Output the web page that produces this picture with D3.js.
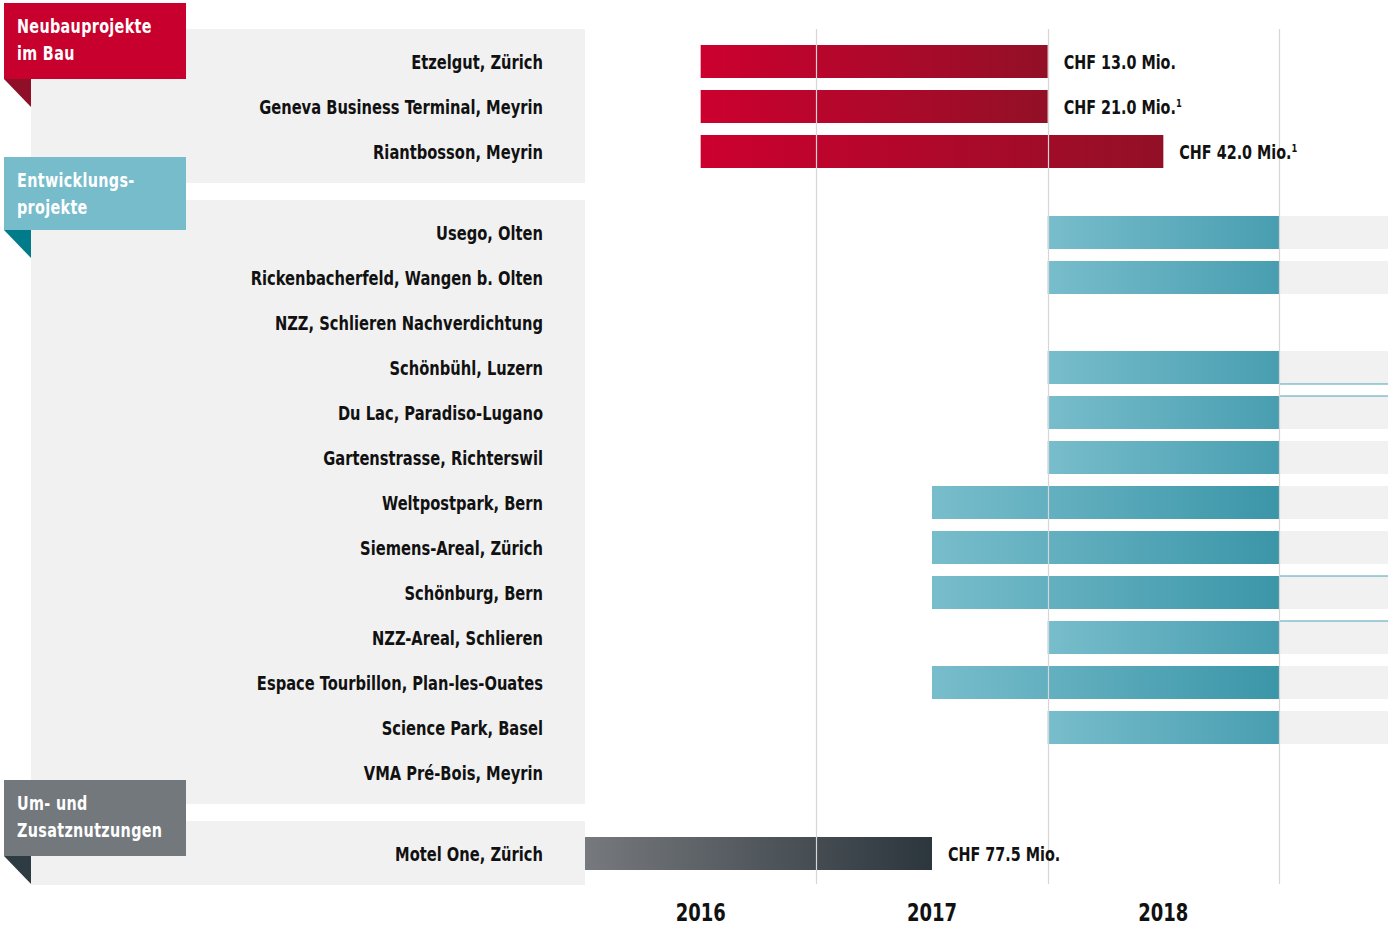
<!DOCTYPE html>
<html>
<head>
<meta charset="utf-8">
<script src="https://cdn.jsdelivr.net/npm/d3@7"></script>
<style>
  body { margin: 0; background: #fff; }
  svg text { font-family: "DejaVu Sans Condensed", "DejaVu Sans", sans-serif; font-weight: bold; }
</style>
</head>
<body>
<div id="chart"></div>
<script>
// groups
const groupNames = [["Neubauprojekte", "im Bau"], ["Entwicklungs-", "projekte"], ["Um- und", "Zusatznutzungen"]];
const groupColors = ["#c8002d", "#76bccb", "#73787c"];
const groupFolds = ["#8e0f27", "#007b8a", "#2f3b42"];

// projects
const projects = [
  "Etzelgut, Zürich", "Geneva Business Terminal, Meyrin", "Riantbosson, Meyrin",
  "Usego, Olten", "Rickenbacherfeld, Wangen b. Olten", "NZZ, Schlieren Nachverdichtung",
  "Schönbühl, Luzern", "Du Lac, Paradiso-Lugano", "Gartenstrasse, Richterswil",
  "Weltpostpark, Bern", "Siemens-Areal, Zürich", "Schönburg, Bern", "NZZ-Areal, Schlieren",
  "Espace Tourbillon, Plan-les-Ouates", "Science Park, Basel", "VMA Pré-Bois, Meyrin",
  "Motel One, Zürich"
];
const projectGroup = [0, 0, 0, 1, 1, 1, 1, 1, 1, 1, 1, 1, 1, 1, 1, 1, 2];
const startYear = [2016.5, 2016.5, 2016.5, 2018, 2018, null, 2018, 2018, 2018, 2017.5, 2017.5, 2017.5, 2018, 2017.5, 2018, null, 2016];
const endYear   = [2018, 2018, 2018.5, 2019, 2019, null, 2019, 2019, 2019, 2019, 2019, 2019, 2019, 2019, 2019, null, 2017.5];
const ongoing   = [false, false, false, true, true, false, true, true, true, true, true, true, true, true, true, false, false];
const valueLabels = ["CHF 13.0 Mio.", "CHF 21.0 Mio.", "CHF 42.0 Mio.", null, null, null, null, null, null, null, null, null, null, null, null, null, "CHF 77.5 Mio."];
const footnotes = ["", "1", "1", "", "", "", "", "", "", "", "", "", "", "", "", "", ""];
const edgeLines = [null, null, null, null, null, null, "bottom", "top", null, null, null, "top", "top", null, null, null, null];

const years = [2016, 2017, 2018];

const W = 1388, H = 928;
const SX = 0.86; // horizontal squeeze to mimic condensed face
const svg = d3.select("#chart").append("svg").attr("width", W).attr("height", H);
const defs = svg.append("defs");

const x = d3.scaleLinear().domain([2016, 2019]).range([585, 1279]);
const rowStep = d3.scaleLinear().domain([0, 1]).range([62, 107]);
const y = (i) => rowStep(i) + projectGroup[i] * 36;
const barH = 33;

// grey panels behind labels
const panelX0 = 31, panelX1 = 585;
d3.range(groupNames.length).forEach((g) => {
  const idx = projects.map((p, i) => i).filter((i) => projectGroup[i] === g);
  const top = y(idx[0]) - 33, bottom = y(idx[idx.length - 1]) + 31;
  svg.append("rect").attr("x", panelX0).attr("y", top).attr("width", panelX1 - panelX0).attr("height", bottom - top).attr("fill", "#f1f1f1");
});

// grey continuation to right edge
svg.selectAll("rect.ext").data(projects.map((p, i) => i).filter((i) => ongoing[i]))
  .enter().append("rect").attr("class", "ext")
  .attr("x", x(2019)).attr("width", W - x(2019))
  .attr("y", (i) => y(i) - 17).attr("height", barH)
  .attr("fill", "#f1f1f1");

svg.selectAll("line.edge").data(projects.map((p, i) => i).filter((i) => edgeLines[i]))
  .enter().append("line").attr("class", "edge")
  .attr("x1", x(2019)).attr("x2", W)
  .attr("y1", (i) => edgeLines[i] === "top" ? y(i) - 17 : y(i) + 16)
  .attr("y2", (i) => edgeLines[i] === "top" ? y(i) - 17 : y(i) + 16)
  .attr("stroke", "#4aa3b5").attr("stroke-width", 1.2);

// gradients per bar
const gradStops = [["#cc002e", "#921026"], ["#78bdcc", "#3b96a8"], ["#76797d", "#2c363d"]];
const maxLen = [0, 1, 2].map((g) => d3.max(projects.map((p, i) => i).filter((i) => projectGroup[i] === g && startYear[i] != null), (i) => endYear[i] - startYear[i]));

const barIdx = projects.map((p, i) => i).filter((i) => startYear[i] != null);
barIdx.forEach((i) => {
  const g = projectGroup[i];
  const len = endYear[i] - startYear[i];
  const endCol = g === 1 ? d3.interpolateRgb(gradStops[g][0], gradStops[g][1])(0.35 + 0.65 * len / maxLen[g]) : gradStops[g][1];
  const grad = defs.append("linearGradient").attr("id", "grad" + i).attr("x1", "0").attr("x2", "1").attr("y1", "0").attr("y2", "0");
  grad.append("stop").attr("offset", "0").attr("stop-color", gradStops[g][0]);
  grad.append("stop").attr("offset", "1").attr("stop-color", endCol);
});

svg.selectAll("rect.bar").data(barIdx).enter().append("rect").attr("class", "bar")
  .attr("x", (i) => x(startYear[i]))
  .attr("width", (i) => x(endYear[i]) - x(startYear[i]))
  .attr("y", (i) => y(i) - 17).attr("height", barH)
  .attr("fill", (i) => `url(#grad${i})`);

// year gridlines
svg.selectAll("line.grid").data([2016.999, 2018, 2019]).enter().append("line").attr("class", "grid")
  .attr("x1", (d) => Math.round(x(d)) + 0.5).attr("x2", (d) => Math.round(x(d)) + 0.5)
  .attr("y1", 29).attr("y2", 884)
  .attr("stroke", "#d6d6d6").attr("stroke-width", 1.2);

// project labels
svg.selectAll("text.proj").data(projects).enter().append("text").attr("class", "proj")
  .attr("transform", (d, i) => `translate(543,${y(i) + 7}) scale(${SX},1)`)
  .attr("text-anchor", "end").attr("font-size", 19).attr("fill", "#111")
  .text((d) => d);

// value labels
const vl = svg.selectAll("text.val").data(projects.map((p, i) => i).filter((i) => valueLabels[i])).enter()
  .append("text").attr("class", "val")
  .attr("transform", (i) => `translate(${x(endYear[i]) + 16},${y(i) + 7}) scale(0.84,1)`)
  .attr("font-size", 19).attr("fill", "#111");
vl.append("tspan").text((i) => valueLabels[i]);
vl.append("tspan").attr("dy", -7).attr("font-size", 11).text((i) => footnotes[i]);

// year axis labels, centered in each year
svg.selectAll("text.year").data(years).enter().append("text").attr("class", "year")
  .attr("transform", (d) => `translate(${x(d + 0.5)},921) scale(0.8,1)`)
  .attr("text-anchor", "middle").attr("font-size", 25).attr("fill", "#111")
  .text((d) => d);

// group tag boxes
const boxTop = [3, 157, 780], boxH = [76, 73, 76];
groupNames.forEach((lines, g) => {
  const b = svg.append("g");
  b.append("rect").attr("x", 4).attr("y", boxTop[g]).attr("width", 182).attr("height", boxH[g]).attr("fill", groupColors[g]);
  const yb = boxTop[g] + boxH[g];
  b.append("path").attr("d", `M4,${yb}L31,${yb}L31,${yb + 28}Z`).attr("fill", groupFolds[g]);
  lines.forEach((t, k) => {
    b.append("text").attr("transform", `translate(17,${boxTop[g] + 30 + k * 27}) scale(0.84,1)`)
      .attr("font-size", 19).attr("fill", "#fff").attr("letter-spacing", 0.4).text(t);
  });
});
</script>
</body>
</html>
